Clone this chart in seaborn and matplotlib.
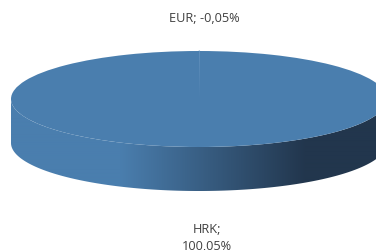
import numpy as np
import matplotlib
matplotlib.use("Agg")
import matplotlib.pyplot as plt
from matplotlib.patches import Polygon
import seaborn as sns

categories = ["EUR", "HRK"]
shares = [-0.05, 100.05]
label_texts = ["EUR; -0,05%", "HRK;\n100,05%"]

sns.set_theme(style="white")
plt.rcParams["font.family"] = ["Open Sans", "DejaVu Sans"]

W, H = 376, 251
fig = plt.figure(figsize=(W / 100, H / 100), dpi=100)
ax = fig.add_axes([0, 0, 1, 1])

cx, cy, rx, ry, depth = 199.0, 100.0, 188.0, 48.0, 44.0


def to_data(px, py):
    return (px - cx) / rx, (cy - py) / ry


top_col = "#4A7EAE"
edge_col = "#6F9AC4"

# side of the 3D pie (drawn first)
d = depth / ry
t1 = np.linspace(np.pi, 2 * np.pi, 200)
t2 = t1[::-1]
xs = np.concatenate([np.cos(t1), np.cos(t2)])
ys = np.concatenate([np.sin(t1), np.sin(t2) - d])
side = Polygon(np.column_stack([xs, ys]), closed=True, facecolor="none",
               edgecolor="none")
ax.add_patch(side)

pxs = np.arange(W)
c_light = np.array([0x4A, 0x7E, 0xAE]) / 255
c_dark = np.array([0x22, 0x36, 0x4D]) / 255
f = np.clip((pxs - 120) / (305 - 120), 0, 1)
grad = c_light[None, :] * (1 - f[:, None]) + c_dark[None, :] * f[:, None]
img = np.repeat(grad[None, :, :], 2, axis=0)
x0, _ = to_data(0, 0)
x1, _ = to_data(W, 0)
im = ax.imshow(img, extent=[x0, x1, -1 - d - 0.1, 0.1], aspect="auto",
               interpolation="bilinear", zorder=1)
im.set_clip_path(side)

# top face via pie
vals = [abs(v) for v in shares]
wedges, _ = ax.pie(vals, startangle=90, counterclock=False, radius=1,
                   center=(0, 0), colors=[edge_col, top_col],
                   wedgeprops=dict(linewidth=0))
for w in wedges:
    w.set_zorder(2)
wedges[0].set_edgecolor(edge_col)
wedges[0].set_linewidth(0.8)

ax.set_aspect("auto")
xa, yb = to_data(0, H)
xb, yt = to_data(W, 0)
ax.set_xlim(xa, xb)
ax.set_ylim(yb, yt)
ax.axis("off")

tc = "#404040"
lx, ly = to_data(204, 19)
ax.text(lx, ly, label_texts[0], ha="center", va="center", fontsize=9.2, color=tc)
hx, hy = to_data(207, 238)
ax.text(hx, hy, label_texts[1], ha="center", va="center", fontsize=9.2,
        color=tc, linespacing=1.45)

fig.savefig("out.png", dpi=100)
